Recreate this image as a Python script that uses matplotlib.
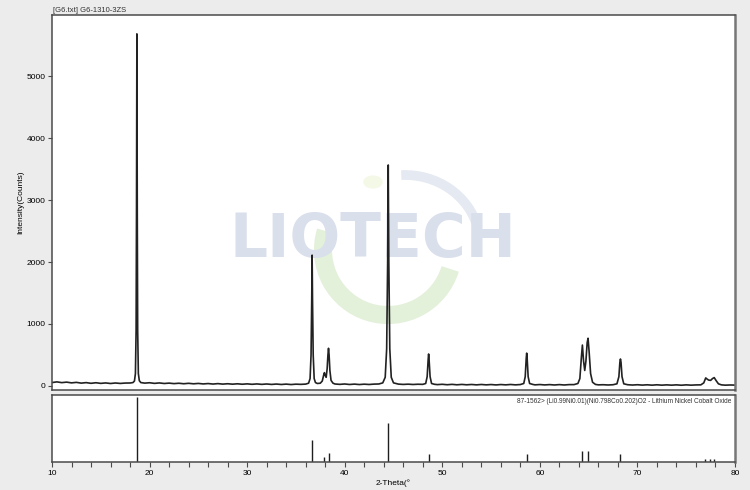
import matplotlib
matplotlib.use('Agg')
import matplotlib.pyplot as plt
from matplotlib.patches import Arc, Circle
from matplotlib.ticker import MultipleLocator

two_theta = [
    10.0, 10.5, 11.0, 11.5, 12.0, 12.5, 13.0, 13.5, 14.0, 14.5, 15.0, 15.5,
    16.0, 16.5, 17.0, 17.5, 18.0, 18.3, 18.45, 18.55, 18.62, 18.66, 18.70,
    18.74, 18.78, 18.85, 18.95, 19.1, 19.5, 20.0, 20.5, 21.0, 21.5, 22.0,
    22.5, 23.0, 23.5, 24.0, 24.5, 25.0, 25.5, 26.0, 26.5, 27.0, 27.5, 28.0,
    28.5, 29.0, 29.5, 30.0, 30.5, 31.0, 31.5, 32.0, 32.5, 33.0, 33.5, 34.0,
    34.5, 35.0, 35.5, 36.0, 36.3, 36.45, 36.55, 36.62, 36.66, 36.70, 36.77,
    36.87, 37.0, 37.2, 37.5, 37.7, 37.85, 37.92, 38.0, 38.1, 38.2, 38.28,
    38.34, 38.40, 38.48, 38.6, 38.8, 39.0, 39.5, 40.0, 40.5, 41.0, 41.5,
    42.0, 42.5, 43.0, 43.5, 43.9, 44.15, 44.3, 44.4, 44.46, 44.52, 44.62,
    44.77, 45.0, 45.5, 46.0, 46.5, 47.0, 47.5, 48.0, 48.3, 48.45, 48.55,
    48.6, 48.65, 48.75, 48.9, 49.2, 49.5, 50.0, 50.5, 51.0, 51.5, 52.0,
    52.5, 53.0, 53.5, 54.0, 54.5, 55.0, 55.5, 56.0, 56.5, 57.0, 57.5, 58.0,
    58.35, 58.5, 58.6, 58.65, 58.7, 58.8, 58.95, 59.3, 59.5, 60.0, 60.5,
    61.0, 61.5, 62.0, 62.5, 63.0, 63.5, 63.9, 64.1, 64.25, 64.36, 64.48,
    64.6, 64.72, 64.85, 64.94, 65.05, 65.2, 65.4, 65.7, 66.0, 66.5, 67.0,
    67.5, 67.9, 68.1, 68.2, 68.26, 68.32, 68.42, 68.6, 69.0, 69.5, 70.0,
    70.5, 71.0, 71.5, 72.0, 72.5, 73.0, 73.5, 74.0, 74.5, 75.0, 75.5, 76.0,
    76.5, 76.8, 77.0, 77.15, 77.3, 77.5, 77.7, 77.87, 78.05, 78.3, 78.6,
    79.0, 79.5, 80.0,
]
counts = [
    55, 66, 54, 62, 50, 58, 46, 54, 43, 52, 42, 49,
    40, 48, 41, 47, 48, 55, 80, 200, 900, 2800, 5680,
    2800, 900, 200, 85, 55, 46, 52, 42, 49, 40, 46,
    38, 44, 36, 43, 35, 41, 33, 39, 31, 38, 30, 36,
    29, 35, 28, 34, 27, 33, 26, 32, 25, 31, 24, 30,
    23, 29, 26, 30, 45, 120, 500, 1400, 2110, 1400, 500,
    120, 55, 40, 45, 80, 180, 215, 170, 140, 280, 500,
    608, 500, 250, 90, 45, 32, 26, 32, 24, 30, 23,
    29, 24, 30, 32, 50, 140, 600, 2000, 3565, 2000, 600,
    140, 50, 30, 25, 29, 24, 28, 26, 40, 150, 420,
    516, 420, 150, 40, 27, 22, 27, 20, 26, 19, 25,
    19, 24, 18, 24, 18, 23, 17, 23, 18, 24, 18, 23,
    40, 150, 440, 530, 440, 150, 40, 24, 18, 23, 17,
    22, 16, 22, 16, 22, 22, 40, 120, 450, 660, 400,
    250, 400, 700, 770, 550, 200, 60, 25, 18, 20, 16,
    20, 35, 150, 380, 435, 380, 150, 35, 20, 15, 20,
    14, 19, 13, 19, 13, 18, 13, 18, 12, 18, 13, 17,
    18, 50, 130, 110, 95, 90, 120, 135, 90, 35, 18,
    13, 16, 14,
]

# Reference card 87-1562 stick pattern (relative intensity)
ref_pos = [18.70, 36.66, 37.92, 38.34, 44.46, 48.60, 58.65, 64.36, 64.94,
           68.26, 76.9, 77.4, 77.86]
ref_int = [100, 34, 7, 14, 60, 13, 13, 17, 17, 13, 4, 4, 5]

sample_title = '[G6.txt] G6-1310-3ZS'
ref_label = '87-1562> (Li0.99Ni0.01)(Ni0.798Co0.202)O2 - Lithium Nickel Cobalt Oxide'
y_ticks = [0, 1000, 2000, 3000, 4000, 5000]
x_ticks = [10, 20, 30, 40, 50, 60, 70, 80]

plt.rcParams['font.family'] = ['Liberation Sans', 'DejaVu Sans']

W, H = 750, 490
fig = plt.figure(figsize=(7.5, 4.9), dpi=100, facecolor='#ececec')

# pixel boxes of the two panels
ax = fig.add_axes([52 / W, 1 - 390 / H, 683 / W, 375 / H])
ax2 = fig.add_axes([52 / W, 1 - 462 / H, 683 / W, 67 / H])

spine_col = '#4a4a4a'
for a in (ax, ax2):
    for s in a.spines.values():
        s.set_color(spine_col)
        s.set_linewidth(1.1)
    a.spines['right'].set_color('#777777')
    a.spines['right'].set_linewidth(1.8)

# watermark
ax.text(373 / W, 1 - 241 / H, 'LIOTECH', transform=fig.transFigure,
        ha='center', va='center', fontsize=43, fontweight='bold',
        family='DejaVu Sans', color='#d9dfeb', zorder=0.6)
ax.add_patch(Arc((388 / W, 1 - 250 / H), 130 / W, 130 / H, theta1=155, theta2=335,
                 transform=fig.transFigure, color='#e3f0da', lw=13, zorder=0.5))
ax.add_patch(Arc((405 / W, 1 - 245 / H), 150 / W, 140 / H, theta1=20, theta2=92,
                 transform=fig.transFigure, color='#e5e9f1', lw=7, zorder=0.5))
ax.add_patch(Circle((373 / W, 1 - 182 / H), 9 / W,
                    transform=fig.transFigure, color='#f4f8e6', zorder=0.5))

# measured pattern
ax.plot(two_theta, counts, color='#222222', lw=1.2, zorder=2)
ax.set_xlim(10, 80)
ax.set_ylim(-65, 5985)
ax.set_xticks([])
ax.set_yticks(y_ticks)
ax.tick_params(axis='y', direction='out', length=3, width=0.8, color=spine_col,
               labelsize=6, pad=1.5)
ax.set_ylabel('Intensity(Counts)', fontsize=6, labelpad=2)
fig.text(53 / W, 1 - 10 / H, sample_title, fontsize=5.5, ha='left', va='center',
         color='#333333')

# reference sticks
ax2.vlines(ref_pos, 0, ref_int, color='#1e1e1e', lw=1.0)
ax2.set_xlim(10, 80)
ax2.set_ylim(0, 103)
ax2.set_yticks([])
ax2.set_xticks(x_ticks)
ax2.xaxis.set_minor_locator(MultipleLocator(2))
ax2.tick_params(axis='x', which='both', direction='out', length=3.5, width=0.8,
                color=spine_col, labelsize=6, pad=2)
ax2.set_xlabel('2-Theta(°', fontsize=6, labelpad=2)
ax2.text(0.995, 0.96, ref_label, transform=ax2.transAxes, ha='right', va='top',
         fontsize=4.7, color='#333333')

fig.savefig('out.png', dpi=100, facecolor=fig.get_facecolor())
